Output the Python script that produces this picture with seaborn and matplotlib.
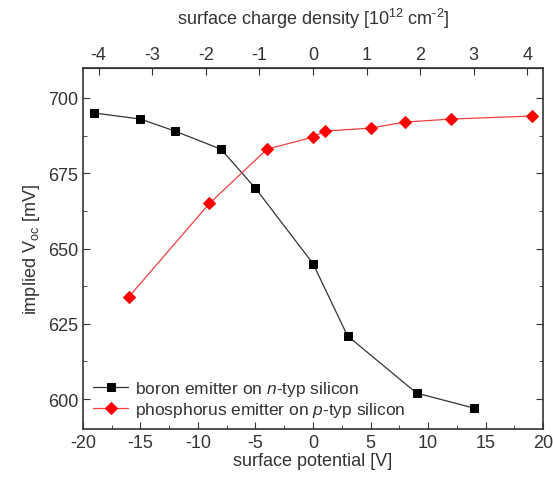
import matplotlib
matplotlib.use("Agg")
import matplotlib.pyplot as plt
import seaborn as sns
from matplotlib.ticker import MultipleLocator

# surface potential [V] vs implied Voc [mV]
boron_v = [-19, -15, -12, -8, -5, 0, 3, 9, 14]
boron_voc = [695, 693, 689, 683, 670, 645, 621, 602, 597]
phos_v = [-16, -9, -4, 0, 1, 5, 8, 12, 19]
phos_voc = [634, 665, 683, 687, 689, 690, 692, 693, 694]
boron_label = "boron emitter on $\\mathit{n}$-typ silicon"
phos_label = "phosphorus emitter on $\\mathit{p}$-typ silicon"
charge_ticks = [-4, -3, -2, -1, 0, 1, 2, 3, 4]
V_PER_CHARGE = 4.66

sns.set_style("ticks")
plt.rcParams["font.family"] = ["Liberation Sans", "DejaVu Sans"]
plt.rcParams["mathtext.fontset"] = "custom"
plt.rcParams["mathtext.rm"] = "Liberation Sans"
plt.rcParams["mathtext.it"] = "Liberation Sans:italic"
plt.rcParams["axes.unicode_minus"] = False

fig = plt.figure(figsize=(5.53, 4.85), dpi=100)
ax = fig.add_axes([0.150, 0.113, 0.832, 0.745])

sns.lineplot(x=boron_v, y=boron_voc, ax=ax, sort=False, color="#333333", lw=0.9,
             marker="s", markersize=6, markerfacecolor="black", markeredgecolor="black",
             label=boron_label)
sns.lineplot(x=phos_v, y=phos_voc, ax=ax, sort=False, color="#f04040", lw=0.9,
             marker="D", markersize=6.5, markerfacecolor="red", markeredgecolor="red",
             label=phos_label)

ax.set_xlim(-20, 20)
ax.set_ylim(590, 710)
ax.xaxis.set_major_locator(MultipleLocator(5))
ax.xaxis.set_minor_locator(MultipleLocator(2.5))
ax.yaxis.set_major_locator(MultipleLocator(25))
ax.yaxis.set_minor_locator(MultipleLocator(12.5))
ax.tick_params(which="both", direction="in", right=True, top=False,
               colors="#333333", labelcolor="#333333")
ax.tick_params(which="major", length=5, labelsize=13)
ax.tick_params(which="minor", length=3)
for s in ax.spines.values():
    s.set_linewidth(1.2)
    s.set_color("#333333")

ax.set_xlabel("surface potential [V]", fontsize=13, color="#333333", labelpad=1)
ax.set_ylabel("implied V$_{\\mathregular{oc}}$ [mV]", fontsize=13, color="#333333", labelpad=4)

top = ax.secondary_xaxis("top", functions=(lambda v: v / V_PER_CHARGE,
                                           lambda q: q * V_PER_CHARGE))
top.set_xticks(charge_ticks)
top.tick_params(direction="in", length=5, labelsize=13, colors="#333333")
top.set_xlabel("surface charge density [10$^{\\mathregular{12}}$ cm$^{\\text{-2}}$]",
               fontsize=13, color="#333333", labelpad=16)

leg = ax.legend(loc="lower left", frameon=False, fontsize=12.5, handlelength=2.0,
                handletextpad=0.4, borderaxespad=0.2, labelspacing=0.1)
for t in leg.get_texts():
    t.set_color("#333333")

fig.savefig("out.png", dpi=100)
